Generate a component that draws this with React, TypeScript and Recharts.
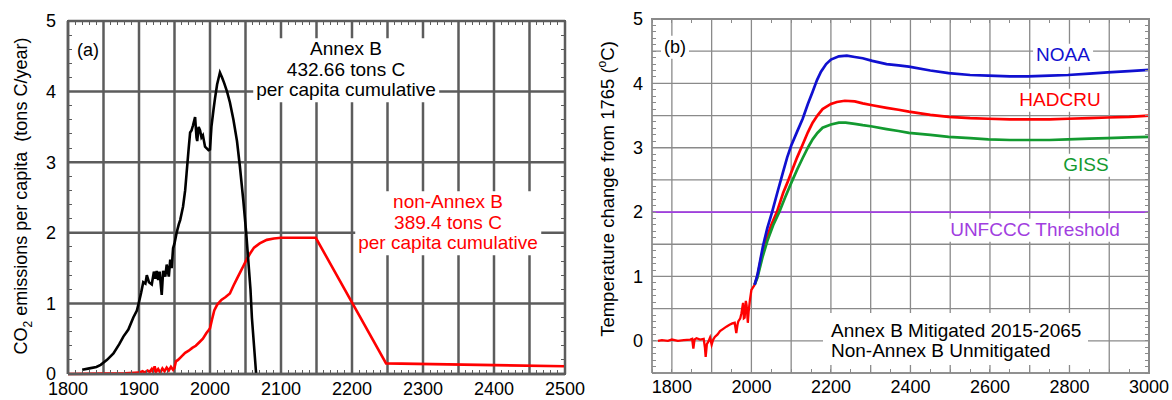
import React from 'react';
import { LineChart, Line, XAxis, YAxis, CartesianGrid, ReferenceLine } from 'recharts';

const FONT = '"Liberation Sans", Arial, Helvetica, sans-serif';
const GRID_A = '#5c5c5c';
const GRID_B = '#8a8a8a';
const RED = '#ff0000';
const BLUE = '#1010d0';
const GREEN = '#139a30';
const PURPLE = '#a13ee0';

// ---- panel (a): CO2 emissions per capita, [year, tons C/year]
const annexB: [number, number][] = [
  [1820, 0.06], [1830, 0.08], [1840, 0.1], [1846, 0.13], [1855, 0.2], [1864, 0.29], [1872, 0.42],
  [1878, 0.53], [1885, 0.63], [1892, 0.8], [1897, 0.9], [1900, 1.02], [1903, 1.15], [1906, 1.3],
  [1909, 1.28], [1911, 1.4], [1914, 1.3], [1918, 1.27], [1921, 1.45], [1923, 1.35], [1925, 1.46],
  [1927, 1.33], [1929, 1.45], [1932, 1.12], [1934, 1.46], [1937, 1.38], [1939, 1.55], [1942, 1.38],
  [1944, 1.62], [1946, 1.5], [1948, 1.78], [1950, 1.85], [1953, 2.0], [1956, 2.12], [1958, 2.18],
  [1962, 2.37], [1965, 2.6], [1967, 2.84], [1970, 3.2], [1972, 3.42], [1974, 3.45], [1976, 3.52],
  [1979, 3.64], [1981, 3.35], [1982, 3.3], [1984, 3.5], [1986, 3.45], [1988, 3.35], [1990, 3.38],
  [1993, 3.22], [1995, 3.2], [1998, 3.17], [2000, 3.18], [2002, 3.5], [2005, 3.75], [2007, 3.9],
  [2010, 4.1], [2014, 4.27], [2017, 4.2], [2020, 4.12], [2024, 4.0], [2028, 3.85], [2033, 3.6],
  [2038, 3.3], [2042, 2.95], [2047, 2.45], [2051, 2.0], [2054, 1.6], [2057, 1.2], [2059, 0.8],
  [2062, 0.4], [2065, 0.0],
];

const nonAnnexB: [number, number][] = [
  [1800, 0], [1850, 0.005], [1880, 0.01], [1900, 0.02], [1905, 0.04], [1908, 0.02], [1912, 0.05],
  [1915, 0.03], [1918, 0.07], [1920, 0.03], [1922, 0.11], [1924, 0.03], [1927, 0.07], [1930, 0.02],
  [1933, 0.08], [1936, 0.04], [1939, 0.09], [1942, 0.05], [1945, 0.1], [1948, 0.06], [1950, 0.09],
  [1952, 0.18], [1955, 0.2], [1960, 0.25], [1965, 0.3], [1970, 0.33], [1975, 0.37], [1980, 0.4],
  [1985, 0.45], [1990, 0.5], [1995, 0.58], [1998, 0.62], [2000, 0.65], [2003, 0.78], [2006, 0.9],
  [2010, 0.98], [2016, 1.05], [2022, 1.09], [2028, 1.14], [2033, 1.25], [2038, 1.35], [2043, 1.45],
  [2047, 1.53], [2052, 1.63], [2056, 1.7], [2062, 1.79], [2070, 1.85], [2080, 1.9], [2090, 1.92],
  [2100, 1.93], [2149, 1.93], [2248, 0.15], [2500, 0.11],
];

// ---- panel (b): temperature change from 1765, [year, degC]
const observed: [number, number][] = [
  [1765, 0.0], [1775, 0.01], [1790, 0.0], [1800, 0.02], [1815, 0.0], [1830, 0.01], [1846, 0.02],
  [1851, 0.03], [1854, -0.12], [1857, 0.02], [1862, 0.04], [1871, 0.02], [1880, 0.03], [1883, -0.1],
  [1885, -0.25], [1888, -0.05], [1892, -0.01], [1896, 0.05], [1900, -0.06], [1904, 0.02],
  [1908, 0.06], [1915, 0.1], [1921, 0.15], [1930, 0.19], [1937, 0.22], [1945, 0.25], [1952, 0.27],
  [1958, 0.28], [1962, 0.12], [1965, 0.25], [1967, 0.3], [1972, 0.35], [1975, 0.43], [1979, 0.59],
  [1981, 0.35], [1983, 0.36], [1986, 0.62], [1988, 0.55], [1991, 0.28], [1993, 0.45], [1996, 0.62],
  [2000, 0.79], [2008, 0.87],
];

const noaa: [number, number][] = [
  [2008, 0.87], [2015, 1.02], [2029, 1.47], [2040, 1.75], [2052, 2.0], [2066, 2.32], [2079, 2.61],
  [2090, 2.85], [2100, 3.03], [2115, 3.25], [2129, 3.45], [2142, 3.68], [2154, 3.87], [2165, 4.05],
  [2175, 4.18], [2188, 4.3], [2200, 4.37], [2220, 4.42], [2240, 4.43], [2260, 4.41], [2280, 4.39],
  [2304, 4.35], [2340, 4.3], [2370, 4.28], [2396, 4.26], [2450, 4.2], [2496, 4.16], [2550, 4.13],
  [2596, 4.12], [2650, 4.11], [2696, 4.11], [2750, 4.12], [2796, 4.13], [2850, 4.15], [2896, 4.17],
  [2950, 4.19], [3000, 4.21],
];

const hadcru: [number, number][] = [
  [2008, 0.87], [2015, 1.0], [2025, 1.3], [2037, 1.57], [2050, 1.8], [2064, 2.0], [2080, 2.3],
  [2090, 2.45], [2100, 2.61], [2115, 2.85], [2129, 3.05], [2142, 3.24], [2154, 3.39], [2166, 3.5],
  [2179, 3.6], [2200, 3.68], [2215, 3.71], [2235, 3.73], [2260, 3.72], [2280, 3.69], [2304, 3.66],
  [2340, 3.62], [2370, 3.59], [2396, 3.56], [2450, 3.51], [2496, 3.48], [2550, 3.46], [2596, 3.45],
  [2650, 3.44], [2696, 3.44], [2750, 3.44], [2796, 3.45], [2850, 3.46], [2896, 3.47], [2950, 3.48],
  [3000, 3.5],
];

const giss: [number, number][] = [
  [2008, 0.87], [2015, 0.98], [2028, 1.3], [2040, 1.55], [2055, 1.8], [2070, 2.0], [2085, 2.23],
  [2100, 2.45], [2115, 2.66], [2129, 2.84], [2142, 3.0], [2154, 3.13], [2166, 3.23], [2179, 3.31],
  [2200, 3.36], [2220, 3.39], [2237, 3.39], [2260, 3.37], [2280, 3.35], [2304, 3.33], [2340, 3.29],
  [2370, 3.26], [2396, 3.23], [2450, 3.2], [2496, 3.17], [2550, 3.15], [2596, 3.13], [2650, 3.12],
  [2696, 3.12], [2750, 3.12], [2796, 3.13], [2850, 3.14], [2896, 3.15], [2950, 3.16], [3000, 3.17],
];

const unfcccThreshold = 2.0;

// axes
const aXDomain = [1800, 2500];
const aYDomain = [0, 5];
const aXTicks = [1800, 1850, 1900, 1950, 2000, 2050, 2100, 2150, 2200, 2250, 2300, 2350, 2400, 2450, 2500];
const aXLabels = [1800, 1900, 2000, 2100, 2200, 2300, 2400, 2500];
const aYTicks = [0, 1, 2, 3, 4, 5];
const bXDomain = [1750, 3000];
const bYDomain = [-0.5, 5];
const bXTicks = [1800, 1900, 2000, 2100, 2200, 2300, 2400, 2500, 2600, 2700, 2800, 2900, 3000];
const bXLabels = [1800, 2000, 2200, 2400, 2600, 2800, 3000];
const bYTicks = [-0.5, 0, 0.5, 1, 1.5, 2, 2.5, 3, 3.5, 4, 4.5, 5];
const bYLabels = [0, 1, 2, 3, 4, 5];

const range = (from: number, to: number, step: number) => {
  const out: number[] = [];
  for (let i = 0; from + i * step <= to + 1e-9; i++) out.push(+(from + i * step).toFixed(2));
  return out;
};
const aMinorX = range(1800, 2500, 10);
const aMinorY = range(0, 5, 0.2);
const bMinorX = range(1750, 3000, 50);
const bMinorY = range(-0.5, 5, 0.1);

// chart boxes (page px) and the plot rectangles they leave
const A = { left: 0, width: 590, margin: { top: 21, right: 25, bottom: 0, left: 0 }, yAxisW: 68, xAxisH: 26 };
const B = { left: 580, width: 592, margin: { top: 19, right: 23, bottom: 0, left: 0 }, yAxisW: 72, xAxisH: 27 };
const plotRect = (c: typeof A) => ({
  left: c.left + c.margin.left + c.yAxisW,
  top: c.margin.top,
  width: c.width - c.margin.left - c.margin.right - c.yAxisW,
  height: 400 - c.margin.top - c.margin.bottom - c.xAxisH,
});

const rows = (pairs: [number, number][]) => pairs.map(([year, v]) => ({ year, v }));
const tickStyle = { fill: '#000', fontSize: 18, fontFamily: FONT };

function Note({ cx, cy, color = '#000', size = 19, children }: any) {
  return (
    <div
      style={{
        position: 'absolute', left: cx, top: cy, transform: 'translate(-50%, -50%)',
        background: '#fff', color, fontSize: size, fontFamily: FONT, lineHeight: '20.5px',
        textAlign: 'center', whiteSpace: 'nowrap', padding: '1px 3px',
      }}
    >
      {children}
    </div>
  );
}

// top/right border and the small inward minor ticks round the plot
function Frame({ rect, xd, yd, xs, ys, color, lw }: any) {
  const { left, top, width, height } = rect;
  const px = (x: number) => left + ((x - xd[0]) / (xd[1] - xd[0])) * width;
  const py = (y: number) => top + ((yd[1] - y) / (yd[1] - yd[0])) * height;
  const box = (key: string, l: number, t: number, w: number, h: number) => (
    <div key={key} style={{ position: 'absolute', left: l, top: t, width: w, height: h, background: color }} />
  );
  const out = [
    box('top', left - lw / 2, top - lw / 2, width + lw, lw),
    box('right', left + width - lw / 2, top - lw / 2, lw, height + lw),
  ];
  xs.forEach((x: number) => {
    out.push(box(`t${x}`, px(x) - 0.5, top, 1, 4));
    out.push(box(`b${x}`, px(x) - 0.5, top + height - 4, 1, 4));
  });
  ys.forEach((y: number) => {
    out.push(box(`l${y}`, left, py(y) - 0.5, 4, 1));
    out.push(box(`r${y}`, left + width - 4, py(y) - 0.5, 4, 1));
  });
  return <>{out}</>;
}

function PanelA() {
  const axisLine = { stroke: GRID_A, strokeWidth: 2.5 };
  return (
    <LineChart width={A.width} height={400} margin={A.margin}>
      <CartesianGrid stroke={GRID_A} strokeWidth={2.5} />
      <XAxis
        dataKey="year" type="number" domain={aXDomain} ticks={aXTicks} interval={0}
        tickFormatter={(v: number) => (aXLabels.includes(v) ? String(v) : '')}
        height={A.xAxisH} tickLine={false} tickSize={0} tickMargin={8} axisLine={axisLine} tick={tickStyle}
      />
      <YAxis
        type="number" domain={aYDomain} ticks={aYTicks} interval={0}
        width={A.yAxisW} tickLine={false} tickSize={0} tickMargin={12} axisLine={axisLine} tick={tickStyle}
      />
      <Line data={rows(nonAnnexB)} dataKey="v" type="linear" stroke={RED} strokeWidth={2.6} dot={false} isAnimationActive={false} />
      <Line data={rows(annexB)} dataKey="v" type="linear" stroke="#000" strokeWidth={2.6} dot={false} isAnimationActive={false} />
    </LineChart>
  );
}

function PanelB() {
  const axisLine = { stroke: GRID_B, strokeWidth: 1.3 };
  return (
    <LineChart width={B.width} height={400} margin={B.margin}>
      <CartesianGrid stroke={GRID_B} strokeWidth={1.3} />
      <XAxis
        dataKey="year" type="number" domain={bXDomain} ticks={bXTicks} interval={0}
        tickFormatter={(v: number) => (bXLabels.includes(v) ? String(v) : '')}
        height={B.xAxisH} tickLine={false} tickSize={0} tickMargin={7} axisLine={axisLine} tick={tickStyle}
      />
      <YAxis
        type="number" domain={bYDomain} ticks={bYTicks} interval={0}
        tickFormatter={(v: number) => (bYLabels.includes(v) ? String(v) : '')}
        width={B.yAxisW} tickLine={false} tickSize={0} tickMargin={9} axisLine={axisLine} tick={tickStyle}
      />
      <ReferenceLine y={unfcccThreshold} stroke={PURPLE} strokeWidth={1.6} />
      <Line data={rows(observed)} dataKey="v" type="linear" stroke={RED} strokeWidth={2.3} dot={false} isAnimationActive={false} />
      <Line data={rows(hadcru)} dataKey="v" type="linear" stroke={RED} strokeWidth={2.7} dot={false} isAnimationActive={false} />
      <Line data={rows(giss)} dataKey="v" type="linear" stroke={GREEN} strokeWidth={2.7} dot={false} isAnimationActive={false} />
      <Line data={rows(noaa)} dataKey="v" type="linear" stroke={BLUE} strokeWidth={2.7} dot={false} isAnimationActive={false} />
    </LineChart>
  );
}

export default function App() {
  return (
    <div style={{ position: 'absolute', left: 0, top: 0, width: 1172, height: 400, background: '#fff' }}>
      <div style={{ position: 'absolute', left: A.left, top: 0 }}>
        <PanelA />
      </div>
      <div style={{ position: 'absolute', left: B.left, top: 0 }}>
        <PanelB />
      </div>

      <Frame rect={plotRect(A)} xd={aXDomain} yd={aYDomain} xs={aMinorX} ys={aMinorY} color={GRID_A} lw={2.5} />
      <Frame rect={plotRect(B)} xd={bXDomain} yd={bYDomain} xs={bMinorX} ys={bMinorY} color={GRID_B} lw={1.3} />

      {/* axis titles */}
      <div
        style={{
          position: 'absolute', left: 23, top: 196, transform: 'translate(-50%, -50%) rotate(-90deg)',
          fontFamily: FONT, fontSize: 18, whiteSpace: 'nowrap', color: '#000',
        }}
      >
        CO<sub style={{ fontSize: 12 }}>2</sub> emissions per capita&nbsp; (tons C/year)
      </div>
      <div
        style={{
          position: 'absolute', left: 607, top: 189, transform: 'translate(-50%, -50%) rotate(-90deg)',
          fontFamily: FONT, fontSize: 18.5, whiteSpace: 'nowrap', color: '#000',
        }}
      >
        Temperature change from 1765 (<sup style={{ fontSize: 12 }}>o</sup>C)
      </div>

      {/* panel (a) notes */}
      <Note cx={88} cy={50} size={18}>(a)</Note>
      <Note cx={346} cy={70}>
        Annex B<br />432.66 tons C<br />per capita cumulative
      </Note>
      <Note cx={448} cy={223} color={RED}>
        non-Annex B<br />389.4 tons C<br />per capita cumulative
      </Note>

      {/* panel (b) notes */}
      <Note cx={675} cy={47} size={18}>(b)</Note>
      <Note cx={1063} cy={55} color={BLUE}>NOAA</Note>
      <Note cx={1060} cy={100} color={RED}>HADCRU</Note>
      <Note cx={1086} cy={165} color={GREEN}>GISS</Note>
      <Note cx={1035} cy={230} color={PURPLE}>UNFCCC Threshold</Note>
      <div
        style={{
          position: 'absolute', left: 823, top: 313, width: 257, padding: '8px 0 4px 8px',
          background: '#fff', fontFamily: FONT, fontSize: 19, lineHeight: '20px', whiteSpace: 'nowrap',
        }}
      >
        Annex B Mitigated 2015-2065<br />Non-Annex B Unmitigated
      </div>
    </div>
  );
}
